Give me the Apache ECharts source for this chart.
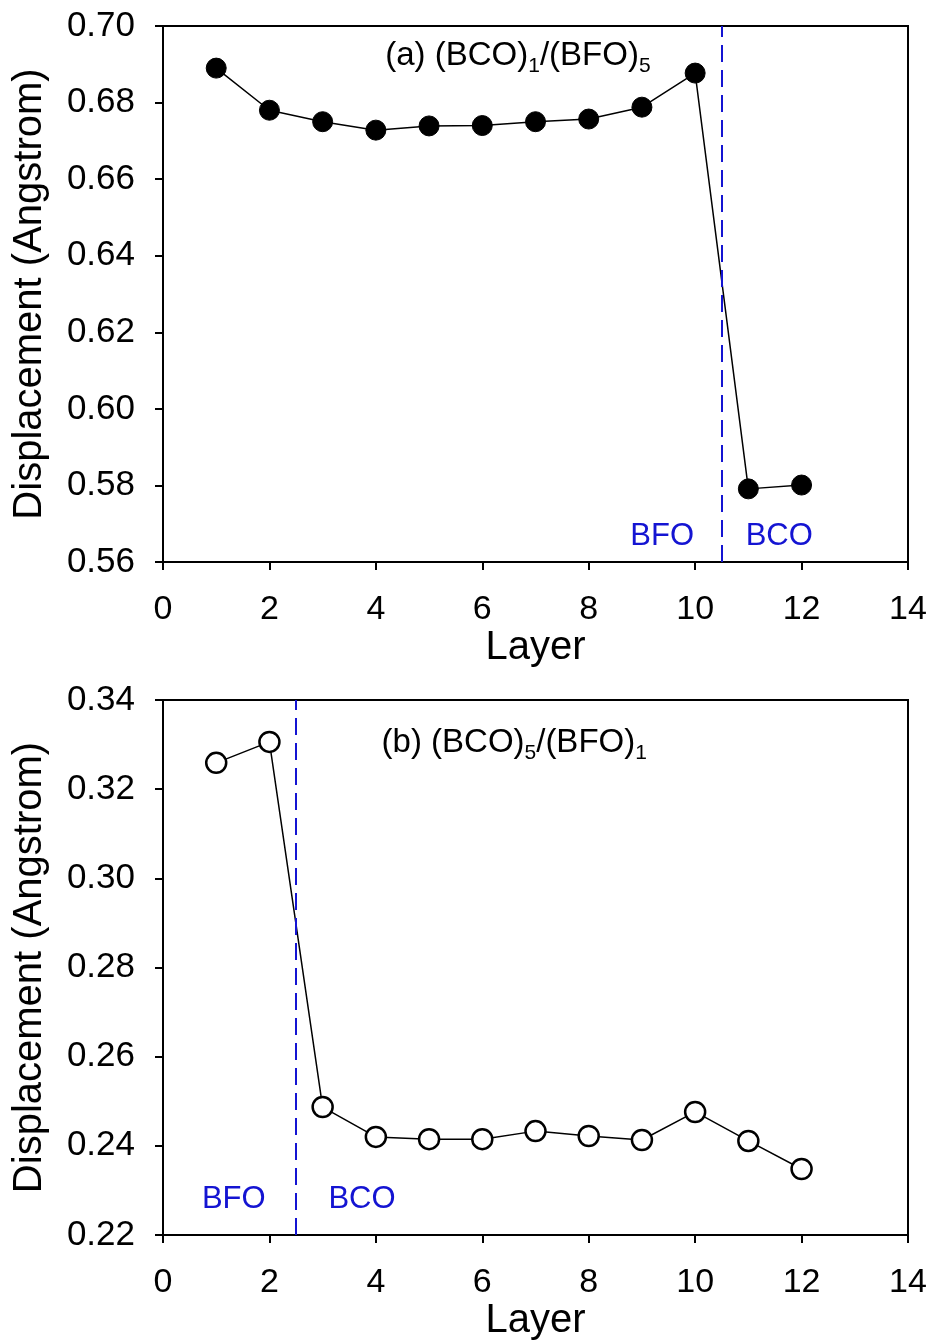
<!DOCTYPE html>
<html>
<head>
<meta charset="utf-8">
<script src="https://cdn.jsdelivr.net/npm/echarts@6/dist/echarts.min.js"></script>
<style>
    html, body { margin: 0; padding: 0; background: #fff; }
    #main { width: 935px; height: 1342px; }
</style>
</head>
<body>
<div id="main"></div>
<script>
// 数据
var layers = [1, 2, 3, 4, 5, 6, 7, 8, 9, 10, 11, 12];
var dispA = [0.689, 0.678, 0.675, 0.6728, 0.6739, 0.674, 0.675, 0.6757, 0.6788, 0.6877, 0.5791, 0.5801];
var dispB = [0.3259, 0.3306, 0.2487, 0.2420, 0.2415, 0.2415, 0.2433, 0.2422, 0.2413, 0.2476, 0.2411, 0.2348];
var xTicks = [0, 14, 2];
var yTicksA = [0.56, 0.70, 0.02];
var yTicksB = [0.22, 0.34, 0.02];
var boundaryA = 10.5;
var boundaryB = 2.5;

var font = '"Liberation Sans", Arial, sans-serif';
var blue = '#1414d2';

var pairs = function(ys) {
    var out = [];
    for (var i = 0; i < layers.length; i++) {
        out.push([layers[i], ys[i]]);
    }
    return out;
};

var xAxisOpt = function(idx) {
    return {
        type: 'value',
        gridIndex: idx,
        min: xTicks[0],
        max: xTicks[1],
        interval: xTicks[2],
        name: 'Layer',
        nameLocation: 'middle',
        nameGap: 63,
        nameTextStyle: { color: '#000', fontFamily: font, fontSize: 40 },
        axisLine: { show: true, lineStyle: { color: '#000', width: 2 } },
        axisTick: { show: true, inside: false, length: 8, lineStyle: { color: '#000', width: 2 } },
        axisLabel: { color: '#000', fontFamily: font, fontSize: 34, margin: 31 },
        splitLine: { show: false }
    };
};

var yAxisOpt = function(idx, t) {
    return {
        type: 'value',
        gridIndex: idx,
        min: t[0],
        max: t[1],
        interval: t[2],
        name: 'Displacement (Angstrom)',
        nameLocation: 'middle',
        nameGap: 113,
        nameTextStyle: { color: '#000', fontFamily: font, fontSize: 40 },
        axisLine: { show: true, lineStyle: { color: '#000', width: 2 } },
        axisTick: { show: true, inside: false, length: 8, lineStyle: { color: '#000', width: 2 } },
        axisLabel: {
            color: '#000', fontFamily: font, fontSize: 35, margin: 28,
            formatter: function(v) { return v.toFixed(2); }
        },
        splitLine: { show: false }
    };
};

var richTitle = {
    n: { fontFamily: font, fontSize: 33, color: '#000' },
    s: { fontFamily: font, fontSize: 21, color: '#000', padding: [20, 0, 0, 0] }
};

var markLineOpt = function(x) {
    return {
        silent: true,
        symbol: 'none',
        label: { show: false },
        lineStyle: { color: blue, width: 2, type: [17, 8] },
        data: [{ xAxis: x }]
    };
};

var textPoint = function(coord, text, color, size) {
    return {
        coord: coord,
        value: text,
        symbol: 'rect',
        symbolSize: 1,
        itemStyle: { color: 'rgba(0,0,0,0)' },
        label: {
            show: true,
            position: 'inside',
            formatter: text,
            color: color,
            fontFamily: font,
            fontSize: size,
            rich: richTitle
        }
    };
};

var gridOpt = function(top, h) {
    return {
        left: 163, right: 27, top: top, height: h,
        containLabel: false, outerBoundsMode: 'none',
        show: true, borderColor: '#000', borderWidth: 2, backgroundColor: 'transparent'
    };
};

var chart = echarts.init(document.getElementById('main'));
chart.setOption({
    animation: false,
    backgroundColor: '#fff',
    grid: [gridOpt(26, 536), gridOpt(700, 535)],
    xAxis: [xAxisOpt(0), xAxisOpt(1)],
    yAxis: [yAxisOpt(0, yTicksA), yAxisOpt(1, yTicksB)],
    series: [{
        name: 'a',
        type: 'line',
        xAxisIndex: 0,
        yAxisIndex: 0,
        data: pairs(dispA),
        symbol: 'circle',
        symbolSize: 20,
        itemStyle: { color: '#000', borderColor: '#000' },
        lineStyle: { color: '#000', width: 1.5 },
        markLine: markLineOpt(boundaryA),
        markPoint: {
            silent: true,
            data: [
                textPoint([6.67, 0.6922], '{n|(a) (BCO)}{s|1}{n|/(BFO)}{s|5}', '#000', 33),
                textPoint([9.38, 0.5668], 'BFO', blue, 31),
                textPoint([11.58, 0.5668], 'BCO', blue, 31)
            ]
        }
    }, {
        name: 'b',
        type: 'line',
        xAxisIndex: 1,
        yAxisIndex: 1,
        data: pairs(dispB),
        symbol: 'circle',
        symbolSize: 20,
        itemStyle: { color: '#fff', borderColor: '#000', borderWidth: 2.5 },
        lineStyle: { color: '#000', width: 1.5 },
        markLine: markLineOpt(boundaryB),
        markPoint: {
            silent: true,
            data: [
                textPoint([6.6, 0.3303], '{n|(b) (BCO)}{s|5}{n|/(BFO)}{s|1}', '#000', 33),
                textPoint([1.33, 0.2279], 'BFO', blue, 31),
                textPoint([3.74, 0.2279], 'BCO', blue, 31)
            ]
        }
    }]
});

window.addEventListener('resize', function() {
    chart.resize();
});
</script>
</body>
</html>
